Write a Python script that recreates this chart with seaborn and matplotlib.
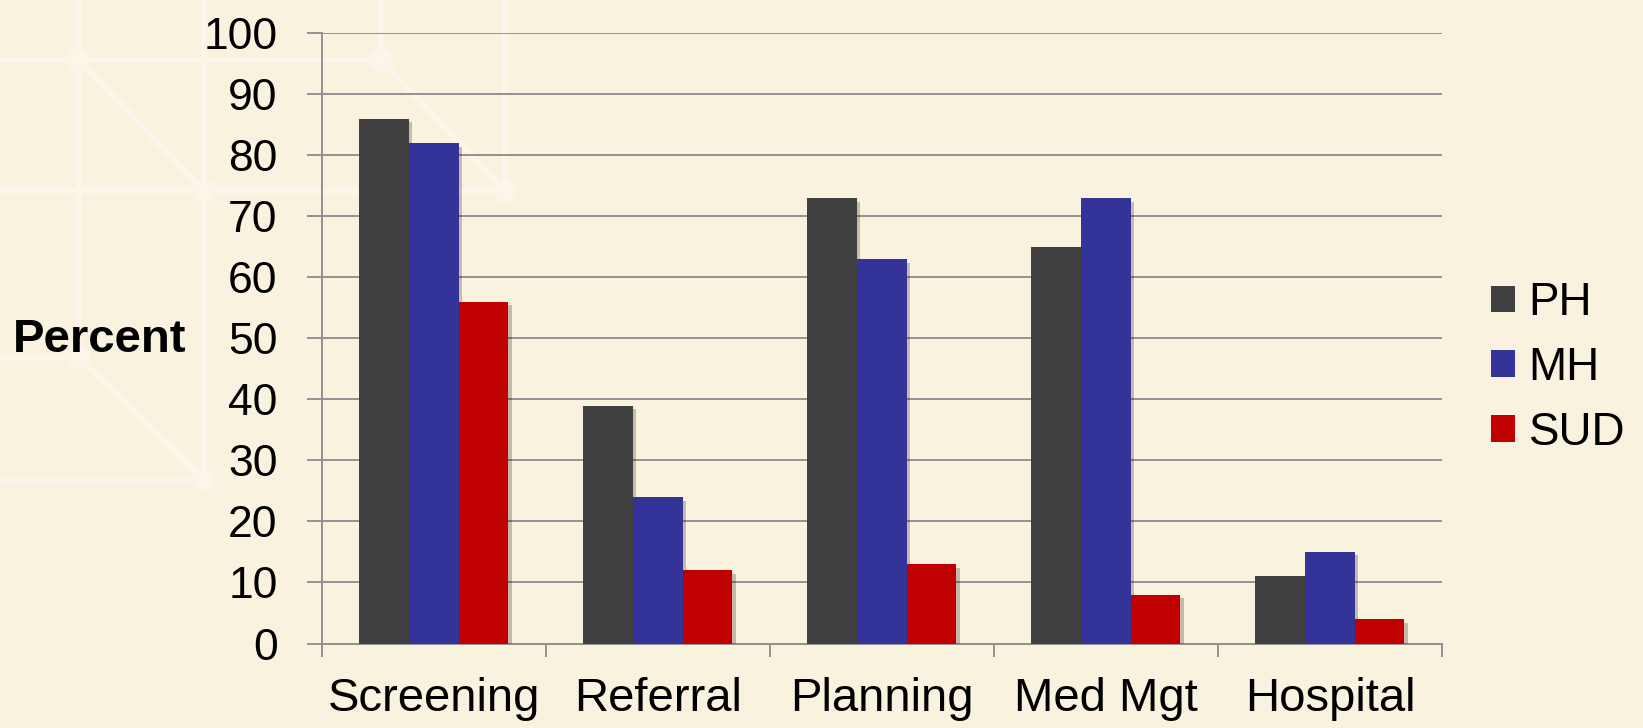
import matplotlib
matplotlib.use("Agg")
import matplotlib.pyplot as plt
import matplotlib.patheffects as pe
from matplotlib.lines import Line2D
from matplotlib.patches import Circle
import seaborn as sns
import pandas as pd

categories = ["Screening", "Referral", "Planning", "Med Mgt", "Hospital"]
series = ["PH", "MH", "SUD"]
ph = [86, 39, 73, 65, 11]
mh = [82, 24, 63, 73, 15]
sud = [56, 12, 13, 8, 4]
colors = ["#404040", "#333399", "#C00000"]
yticks = [0, 10, 20, 30, 40, 50, 60, 70, 80, 90, 100]

df = pd.DataFrame({
    "category": categories * 3,
    "series": [s for s in series for _ in categories],
    "value": ph + mh + sud,
})

BG = "#F9F2DE"
W, H = 1643, 728
sns.set_theme(style="white")
plt.rcParams["font.family"] = ["Liberation Sans", "DejaVu Sans"]
plt.rcParams["text.color"] = "black"

fig = plt.figure(figsize=(W / 100, H / 100), dpi=100, facecolor=BG)

# decorative background pattern (pixel coordinates -> figure fraction)
def P(x, y):
    return x / W, 1 - y / H

deco = "#FBF6E9"
segs = [
    [(0, 60), (381, 60)],
    [(0, 191), (505, 191)],
    [(79, 0), (79, 357)],
    [(204, 0), (204, 480)],
    [(381, 0), (381, 60)],
    [(505, 0), (505, 191)],
    [(79, 60), (204, 191)],
    [(381, 60), (505, 191)],
    [(0, 357), (79, 357)],
    [(79, 357), (204, 480)],
    [(0, 480), (204, 480)],
]
for s in segs:
    (x0, y0), (x1, y1) = P(*s[0]), P(*s[1])
    fig.add_artist(Line2D([x0, x1], [y0, y1], transform=fig.transFigure,
                          color=deco, lw=4.5, zorder=-5, solid_capstyle="round"))
for (x, y) in [(79, 60), (381, 60), (204, 191), (505, 191), (79, 357), (204, 480)]:
    fig.add_artist(Circle((x, H - y), 11, transform=None, color=deco, zorder=-5))

ax = fig.add_axes([321.7 / W, 1 - 643.5 / H, 1120.3 / W, 610.2 / H])
ax.set_facecolor("none")

sns.barplot(data=df, x="category", y="value", hue="series", palette=colors,
            width=0.665, saturation=1, ax=ax, zorder=3, linewidth=0)

for patch in ax.patches:
    patch.set_path_effects([pe.SimplePatchShadow(offset=(2.5, -2.5), shadow_rgbFace="black", alpha=0.22), pe.Normal()])

ax.set_ylim(0, 100)
ax.set_xlim(-0.5, 4.5)
ax.set_yticks(yticks)
ax.set_yticklabels([str(v) for v in yticks])
grid_c = "#929292"
ax.yaxis.grid(True, color=grid_c, lw=1.4, zorder=0)
ax.set_axisbelow(True)
for side in ["top", "right"]:
    ax.spines[side].set_visible(False)
for side in ["left", "bottom"]:
    ax.spines[side].set_color(grid_c)
    ax.spines[side].set_linewidth(1.4)

ax.tick_params(axis="y", which="major", direction="out", length=10.8, width=1.4,
               color=grid_c, labelsize=32, pad=21, left=True, labelcolor="black")
ax.tick_params(axis="x", which="major", length=0, labelsize=34, pad=24, labelcolor="black")
ax.set_xticks([-0.5, 0.5, 1.5, 2.5, 3.5, 4.5], minor=True)
ax.tick_params(axis="x", which="minor", direction="out", length=9.4, width=1.4,
               color=grid_c, bottom=True)

ax.set_xlabel("")
ax.set_ylabel("Percent", rotation=0, fontsize=34, fontweight="bold", ha="right", va="center", color="black")
ax.yaxis.set_label_coords((186 - 321.7) / 1120.3, (643.5 - 340) / 610.2)

handles, labels = ax.get_legend_handles_labels()
leg = ax.legend(handles, labels, loc="center left", bbox_to_anchor=(1491 / W, 1 - 368 / H),
                bbox_transform=fig.transFigure, frameon=False, fontsize=33,
                handlelength=0.52, handleheight=0.52, handletextpad=0.3,
                labelspacing=0.45, borderpad=0, borderaxespad=0, labelcolor="black")
for h in leg.legend_handles:
    h.set_path_effects([])

fig.savefig("out.png", dpi=100, facecolor=BG)
